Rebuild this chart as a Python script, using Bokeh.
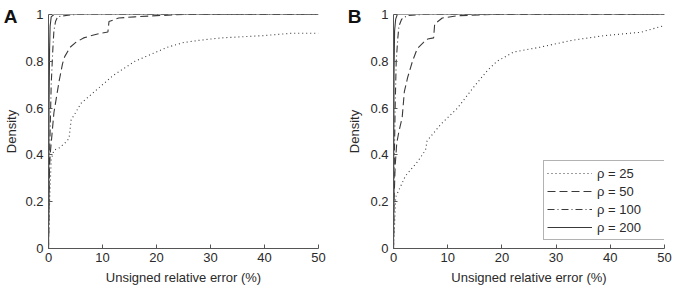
from bokeh.plotting import figure
from bokeh.layouts import row
from bokeh.models import FixedTicker, LinearAxis, Legend, LegendItem
from bokeh.embed import file_html
from bokeh.resources import INLINE

# ---- data ----
a25_x = [0, 0.2, 0.5, 1, 2, 3, 3.8, 4.2, 5, 6, 7, 8, 10, 12, 14, 16, 18, 20, 22, 25, 28, 32, 36, 40, 45, 50]
a25_y = [0, 0.2, 0.38, 0.42, 0.43, 0.45, 0.47, 0.55, 0.58, 0.62, 0.64, 0.66, 0.70, 0.74, 0.77, 0.80, 0.82, 0.84, 0.86, 0.88, 0.89, 0.90, 0.905, 0.91, 0.92, 0.92]
a50_x = [0, 0.1, 0.3, 0.5, 1, 1.5, 2, 2.6, 3, 4, 5, 6.5, 8, 9.7, 11, 11.2, 13, 16, 20, 25, 50]
a50_y = [0, 0.3, 0.4, 0.45, 0.58, 0.65, 0.72, 0.79, 0.82, 0.86, 0.88, 0.90, 0.91, 0.92, 0.925, 0.97, 0.985, 0.99, 0.995, 1.0, 1.0]
a100_x = [0, 0.2, 0.5, 0.8, 1.0, 1.3, 1.7, 3, 5, 50]
a100_y = [0, 0.4, 0.7, 0.85, 0.93, 0.97, 0.99, 0.995, 1.0, 1.0]
a200_x = [0, 0.05, 0.1, 0.2, 0.3, 0.5, 1, 50]
a200_y = [0, 0.3, 0.6, 0.85, 0.95, 0.99, 1.0, 1.0]

b25_x = [0, 0.2, 0.4, 1, 2.2, 4.4, 5.9, 6.2, 8.7, 11.8, 14.8, 17.3, 19.1, 22.2, 27, 33, 39, 45.6, 50]
b25_y = [0, 0.1, 0.22, 0.25, 0.31, 0.37, 0.42, 0.46, 0.53, 0.60, 0.69, 0.76, 0.80, 0.84, 0.86, 0.89, 0.91, 0.924, 0.953]
b50_x = [0, 0.1, 0.3, 0.6, 1, 1.6, 2, 2.6, 3.5, 4.4, 5.5, 6.3, 7.4, 7.6, 9, 12, 18, 50]
b50_y = [0, 0.2, 0.35, 0.45, 0.5, 0.56, 0.67, 0.73, 0.80, 0.855, 0.88, 0.895, 0.90, 0.96, 0.985, 0.995, 1.0, 1.0]
b100_x = [0, 0.1, 0.3, 0.5, 0.8, 1.0, 1.5, 2.5, 5, 50]
b100_y = [0, 0.3, 0.6, 0.8, 0.9, 0.95, 0.98, 0.995, 1.0, 1.0]
b200_x = [0, 0.05, 0.1, 0.2, 0.4, 0.7, 50]
b200_y = [0, 0.4, 0.75, 0.93, 0.98, 1.0, 1.0]

series_labels = ["ρ = 25", "ρ = 50", "ρ = 100", "ρ = 200"]
x_ticks = [0, 10, 20, 30, 40, 50]
y_ticks = [0, 0.2, 0.4, 0.6, 0.8, 1]
y_tick_labels = ["0", "0.2", "0.4", "0.6", "0.8", "1"]
panel_letters = ["A", "B"]

FONT = "Liberation Sans"
LINE_COLOR = "#3a3a3a"
AXIS_COLOR = "#555555"
TEXT_COLOR = "#2a2a2a"
dashes = ["1 3", "8 4", "7 3 1 3", "solid"]


def make_panel(letter, data, border_left, border_right, letter_standoff,
               ylabel_standoff, with_legend):
    p = figure(width=342, height=288, x_range=(0, 50), y_range=(0, 1),
               output_backend="svg", toolbar_location=None,
               min_border_left=border_left, min_border_right=border_right,
               min_border_top=14, min_border_bottom=40)
    p.outline_line_color = None
    p.xgrid.visible = False
    p.ygrid.visible = False
    p.background_fill_color = "white"
    p.border_fill_color = "white"

    renderers = []
    for (xs, ys), dash in zip(data, dashes):
        r = p.line(xs, ys, line_color=LINE_COLOR, line_width=1.1, line_dash=dash)
        renderers.append(r)

    for ax in (p.xaxis[0], p.yaxis[0]):
        ax.axis_line_color = AXIS_COLOR
        ax.major_tick_line_color = AXIS_COLOR
        ax.major_tick_in = 4
        ax.major_tick_out = 0
        ax.minor_tick_line_color = None
        ax.major_label_text_font = FONT
        ax.major_label_text_font_size = "13px"
        ax.major_label_text_color = TEXT_COLOR
        ax.axis_label_text_font = FONT
        ax.axis_label_text_font_size = "13px"
        ax.axis_label_text_font_style = "normal"
        ax.axis_label_text_color = TEXT_COLOR
    p.xaxis.ticker = FixedTicker(ticks=x_ticks)
    p.yaxis.ticker = FixedTicker(ticks=y_ticks)
    p.yaxis.major_label_overrides = {t: l for t, l in zip(y_ticks, y_tick_labels)}
    p.xaxis.axis_label = "Unsigned relative error (%)"
    p.xaxis.major_label_standoff = 4
    p.yaxis.major_label_standoff = 5

    # outer left axis: carries the panel letter (as its one tick label) and "Density"
    outer = LinearAxis(ticker=FixedTicker(ticks=[0.99]),
                       major_label_overrides={0.99: letter},
                       axis_line_color=None, major_tick_line_color=None,
                       minor_tick_line_color=None,
                       major_tick_in=0, major_tick_out=0,
                       major_label_standoff=letter_standoff,
                       major_label_text_font=FONT, major_label_text_font_size="19px",
                       major_label_text_font_style="bold",
                       major_label_text_color="#111111",
                       axis_label="Density", axis_label_standoff=ylabel_standoff,
                       axis_label_text_font=FONT, axis_label_text_font_size="13px",
                       axis_label_text_font_style="normal",
                       axis_label_text_color=TEXT_COLOR)
    p.add_layout(outer, "left")

    if with_legend:
        items = [LegendItem(label=lab, renderers=[r]) for lab, r in zip(series_labels, renderers)]
        leg = Legend(items=items, location=(150, 8), margin=0, padding=3,
                     spacing=0, glyph_width=45, glyph_height=18,
                     label_height=18, label_width=66, label_standoff=5,
                     label_text_font=FONT, label_text_font_size="13px",
                     label_text_color=TEXT_COLOR,
                     border_line_color="#666666", border_line_width=1,
                     background_fill_color="white", background_fill_alpha=1)
        p.add_layout(leg)
    return p


pa = make_panel(panel_letters[0],
                [(a25_x, a25_y), (a50_x, a50_y), (a100_x, a100_y), (a200_x, a200_y)],
                48, 24, 5, -18, False)
pb = make_panel(panel_letters[1],
                [(b25_x, b25_y), (b50_x, b50_y), (b100_x, b100_y), (b200_x, b200_y)],
                51, 20, 6, -17, True)

layout = row(pa, pb)
open("out.html", "w").write(file_html(layout, INLINE))
